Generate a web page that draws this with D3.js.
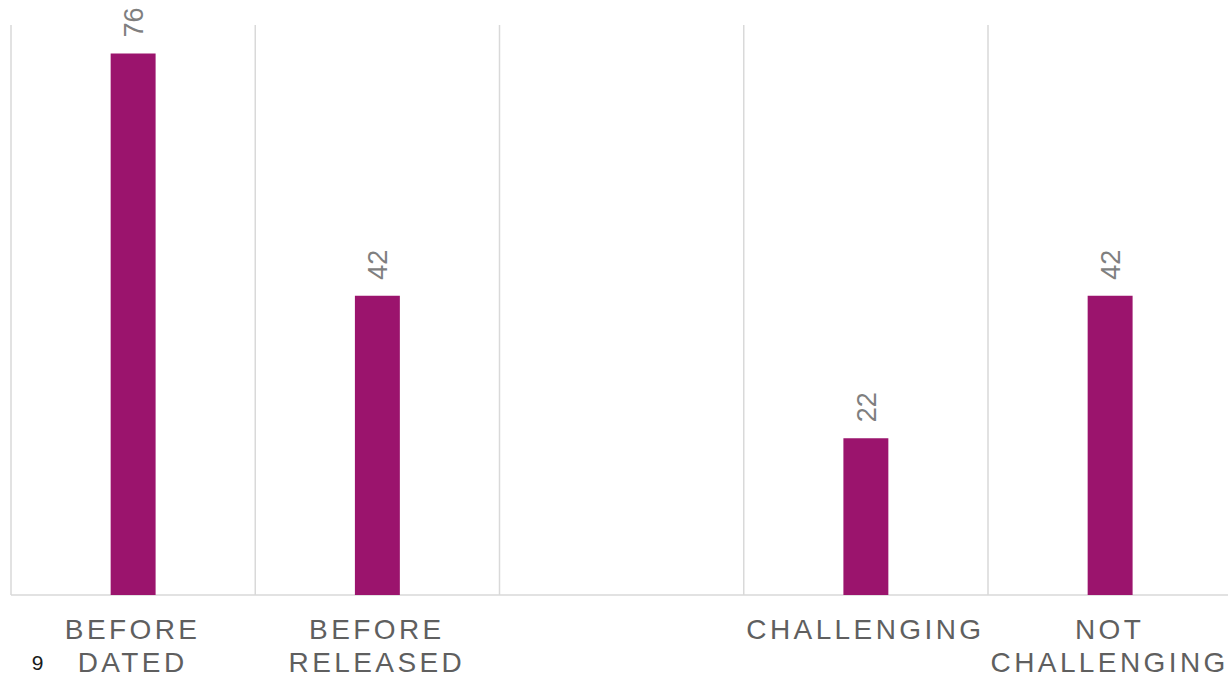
<!DOCTYPE html>
<html>
<head>
<meta charset="utf-8">
<script src="https://cdn.jsdelivr.net/npm/d3@7"></script>
<style>
  html, body { margin: 0; padding: 0; background: #ffffff; }
  svg { display: block; }
</style>
</head>
<body>
<svg id="chart" width="1228" height="676"></svg>
<script>
// Category labels (one line per array entry); the middle slot is left empty
const categories = ["BEFORE DATED", "BEFORE RELEASED", "EMPTY", "CHALLENGING", "NOT CHALLENGING"];
const categoryLines = [["BEFORE", "DATED"], ["BEFORE", "RELEASED"], [], ["CHALLENGING"], ["NOT", "CHALLENGING"]];
const values = [76, 42, null, 22, 42];
const yDomain = [0, 80];
const pageNumber = "9";

const svg = d3.select("#chart");
const plot = { left: 11, right: 1232.25, top: 25, bottom: 595 };

const pad = 0.816;
const x = d3.scaleBand()
  .domain(categories)
  .range([plot.left, plot.right])
  .paddingInner(pad)
  .paddingOuter(pad / 2);

const y = d3.scaleLinear().domain(yDomain).range([plot.bottom, plot.top]);

// vertical separators at the left edge of each category slot
svg.append("g")
  .selectAll("line")
  .data(categories)
  .join("line")
  .attr("x1", d => x(d) + x.bandwidth() / 2 - x.step() / 2)
  .attr("x2", d => x(d) + x.bandwidth() / 2 - x.step() / 2)
  .attr("y1", plot.top)
  .attr("y2", plot.bottom)
  .attr("stroke", "#d9d9d9")
  .attr("stroke-width", 1.5);

// baseline
svg.append("line")
  .attr("x1", plot.left)
  .attr("x2", plot.right)
  .attr("y1", y(0))
  .attr("y2", y(0))
  .attr("stroke", "#d9d9d9")
  .attr("stroke-width", 1.5);

const barData = categories.map((c, i) => ({ c, v: values[i] })).filter(d => d.v != null);

svg.append("g")
  .selectAll("rect")
  .data(barData)
  .join("rect")
  .attr("x", d => x(d.c))
  .attr("width", x.bandwidth())
  .attr("y", d => y(d.v))
  .attr("height", d => y(0) - y(d.v))
  .attr("fill", "#9b146d");

// rotated value labels above each bar
svg.append("g")
  .selectAll("text")
  .data(barData)
  .join("text")
  .attr("transform", d => `translate(${x(d.c) + x.bandwidth() / 2},${y(d.v) - 16}) rotate(-90)`)
  .attr("dy", "0.36em")
  .attr("text-anchor", "start")
  .attr("font-family", "Liberation Sans, Arial, sans-serif")
  .attr("font-size", 27)
  .attr("fill", "#7f7f7f")
  .text(d => d.v);

// category labels
const labels = svg.append("g")
  .selectAll("text")
  .data(categories.map((c, i) => ({ c, lines: categoryLines[i] })))
  .join("text")
  .attr("text-anchor", "middle")
  .attr("font-family", "Liberation Sans, Arial, sans-serif")
  .attr("font-size", 28)
  .attr("letter-spacing", "3.4px")
  .attr("fill", "#5f5f5f");

labels.selectAll("tspan")
  .data(d => d.lines.map(l => ({ l, c: d.c })))
  .join("tspan")
  .attr("x", d => x(d.c) + x.bandwidth() / 2 - 0.5)
  .attr("y", (d, i) => 638.5 + i * 33)
  .text(d => d.l);

// page number
svg.append("text")
  .attr("x", 37.5)
  .attr("y", 670)
  .attr("text-anchor", "middle")
  .attr("font-family", "Liberation Sans, Arial, sans-serif")
  .attr("font-size", 21)
  .attr("fill", "#1a1a1a")
  .text(pageNumber);
</script>
</body>
</html>
